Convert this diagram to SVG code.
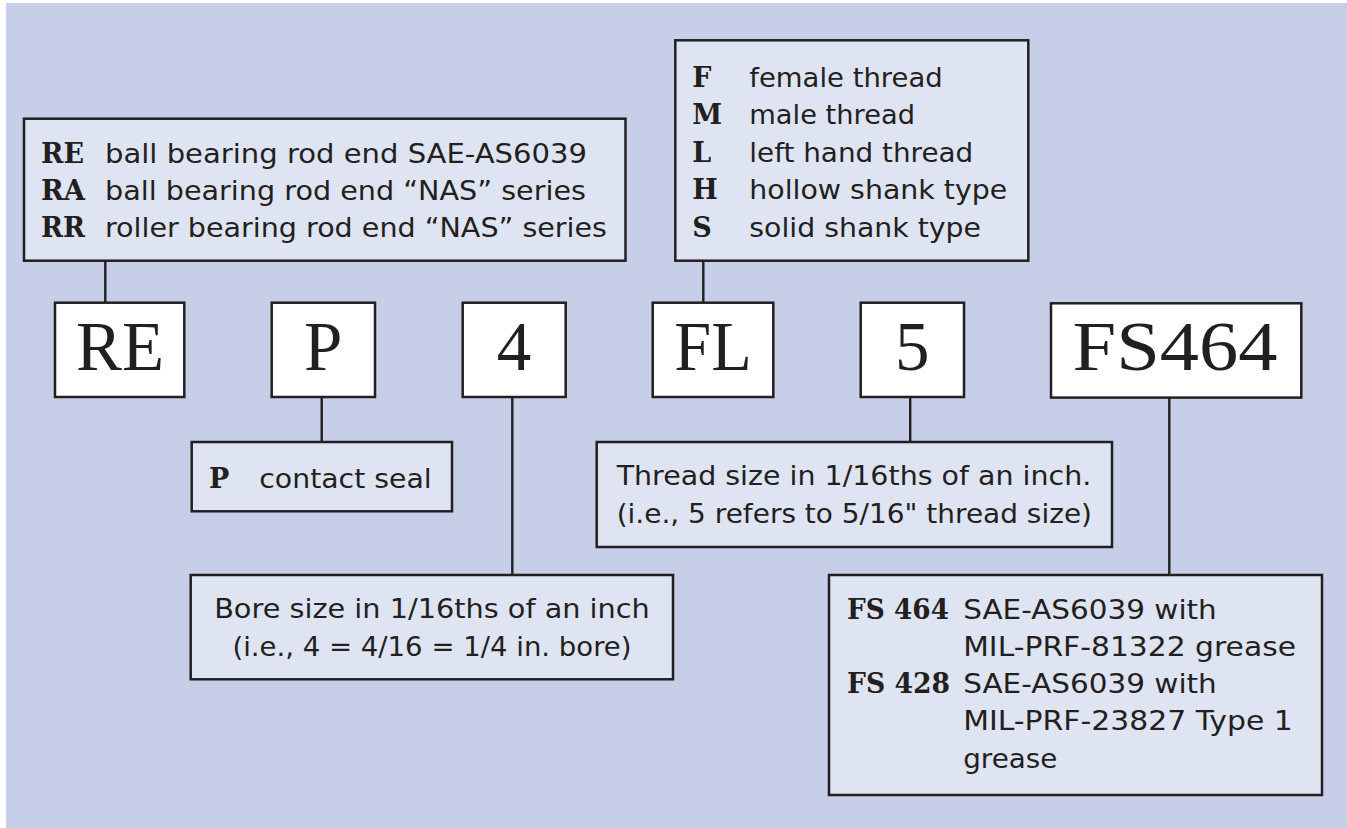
<svg xmlns="http://www.w3.org/2000/svg" width="1347" height="828" viewBox="0 0 1347 828">
<style>
.bg{fill:#C7CEE8}
.desc{fill:#DFE4F3;stroke:#231F20;stroke-width:2.5}
.code{fill:#FFFFFF;stroke:#231F20;stroke-width:2.5}
.conn{stroke:#231F20;stroke-width:2.4;fill:none}
.s{font-family:"DejaVu Sans","Liberation Sans",sans-serif;font-size:27px;fill:#231F20}
.b{font-family:"DejaVu Serif","Liberation Serif",serif;font-weight:bold;font-size:27px;fill:#231F20}
.big{font-family:"Liberation Serif","DejaVu Serif",serif;font-size:69px;fill:#231F20;text-anchor:middle}
.c{text-anchor:middle}
</style>
<rect class="bg" x="6" y="3" width="1341" height="825"/>
<g id="connectors">
<line class="conn" x1="105.3" y1="261" x2="105.3" y2="302.7"/>
<line class="conn" x1="703.3" y1="260.7" x2="703.3" y2="302.7"/>
<line class="conn" x1="321.7" y1="397" x2="321.7" y2="442"/>
<line class="conn" x1="512.3" y1="397" x2="512.3" y2="575"/>
<line class="conn" x1="910.2" y1="397" x2="910.2" y2="442"/>
<line class="conn" x1="1169.3" y1="397.7" x2="1169.3" y2="575"/>
</g>
<g id="type-desc">
<rect class="desc" x="24" y="118.7" width="601.5" height="142"/>
<text class="b" x="41" y="163" textLength="43" lengthAdjust="spacingAndGlyphs">RE</text>
<text class="s" x="105" y="163" textLength="482" lengthAdjust="spacingAndGlyphs">ball bearing rod end SAE-AS6039</text>
<text class="b" x="41" y="200" textLength="44" lengthAdjust="spacingAndGlyphs">RA</text>
<text class="s" x="105" y="200" textLength="481" lengthAdjust="spacingAndGlyphs">ball bearing rod end “NAS” series</text>
<text class="b" x="41" y="237.3" textLength="44" lengthAdjust="spacingAndGlyphs">RR</text>
<text class="s" x="105" y="237.3" textLength="502" lengthAdjust="spacingAndGlyphs">roller bearing rod end “NAS” series</text>
</g>
<g id="thread-type-desc">
<rect class="desc" x="675.3" y="40.3" width="353" height="220.4"/>
<text class="b" x="692.3" y="87.3">F</text>
<text class="s" x="749.3" y="87.3" textLength="193.4" lengthAdjust="spacingAndGlyphs">female thread</text>
<text class="b" x="692.3" y="124">M</text>
<text class="s" x="749.3" y="124" textLength="165.7" lengthAdjust="spacingAndGlyphs">male thread</text>
<text class="b" x="692.3" y="161.7">L</text>
<text class="s" x="749.3" y="161.7" textLength="224" lengthAdjust="spacingAndGlyphs">left hand thread</text>
<text class="b" x="692.3" y="199.3">H</text>
<text class="s" x="749.3" y="199.3" textLength="258" lengthAdjust="spacingAndGlyphs">hollow shank type</text>
<text class="b" x="692.3" y="236.7">S</text>
<text class="s" x="749.3" y="236.7" textLength="231.7" lengthAdjust="spacingAndGlyphs">solid shank type</text>
</g>
<g id="code-RE">
<rect class="code" x="55" y="302.7" width="129.3" height="94.3"/>
<text class="big" x="120" y="370" textLength="88" lengthAdjust="spacingAndGlyphs">RE</text>
</g>
<g id="code-P">
<rect class="code" x="271.7" y="302.7" width="103.3" height="94.3"/>
<text class="big" x="323.3" y="370">P</text>
</g>
<g id="code-4">
<rect class="code" x="462.7" y="302.7" width="103" height="94.3"/>
<text class="big" x="514" y="370">4</text>
</g>
<g id="code-FL">
<rect class="code" x="652.7" y="302.7" width="120.6" height="94.3"/>
<text class="big" x="713" y="370" textLength="77.4" lengthAdjust="spacingAndGlyphs">FL</text>
</g>
<g id="code-5">
<rect class="code" x="860.7" y="302.7" width="103.3" height="94.3"/>
<text class="big" x="912.2" y="370">5</text>
</g>
<g id="code-FS464">
<rect class="code" x="1051" y="303.3" width="250.3" height="94.3"/>
<text class="big" x="1175" y="370" textLength="205" lengthAdjust="spacingAndGlyphs">FS464</text>
</g>
<g id="seal-desc">
<rect class="desc" x="191.7" y="442" width="260.3" height="69.3"/>
<text class="b" x="209" y="487.7">P</text>
<text class="s" x="259.3" y="487.7" textLength="172.4" lengthAdjust="spacingAndGlyphs">contact seal</text>
</g>
<g id="bore-desc">
<rect class="desc" x="190.7" y="575" width="482.3" height="104.3"/>
<text class="s c" x="432" y="618" textLength="435.7" lengthAdjust="spacingAndGlyphs">Bore size in 1/16ths of an inch</text>
<text class="s c" x="432" y="656" textLength="399.1" lengthAdjust="spacingAndGlyphs">(i.e., 4 = 4/16 = 1/4 in. bore)</text>
</g>
<g id="thread-size-desc">
<rect class="desc" x="596.7" y="442" width="515.3" height="105"/>
<text class="s" x="616.7" y="485" textLength="474.6" lengthAdjust="spacingAndGlyphs">Thread size in 1/16ths of an inch.</text>
<text class="s" x="616.7" y="523.3" textLength="475.3" lengthAdjust="spacingAndGlyphs">(i.e., 5 refers to 5/16" thread size)</text>
</g>
<g id="grease-desc">
<rect class="desc" x="829" y="575" width="493" height="220"/>
<text class="b" x="847" y="618.5" textLength="102" lengthAdjust="spacingAndGlyphs">FS 464</text>
<text class="s" x="963.2" y="618.5" textLength="253.6" lengthAdjust="spacingAndGlyphs">SAE-AS6039 with</text>
<text class="s" x="963.2" y="655.7" textLength="332.8" lengthAdjust="spacingAndGlyphs">MIL-PRF-81322 grease</text>
<text class="b" x="847" y="693" textLength="103" lengthAdjust="spacingAndGlyphs">FS 428</text>
<text class="s" x="963.2" y="693" textLength="253.6" lengthAdjust="spacingAndGlyphs">SAE-AS6039 with</text>
<text class="s" x="963.2" y="730.2" textLength="329.6" lengthAdjust="spacingAndGlyphs">MIL-PRF-23827 Type 1</text>
<text class="s" x="963.2" y="767.5" textLength="94.2" lengthAdjust="spacingAndGlyphs">grease</text>
</g>
</svg>
